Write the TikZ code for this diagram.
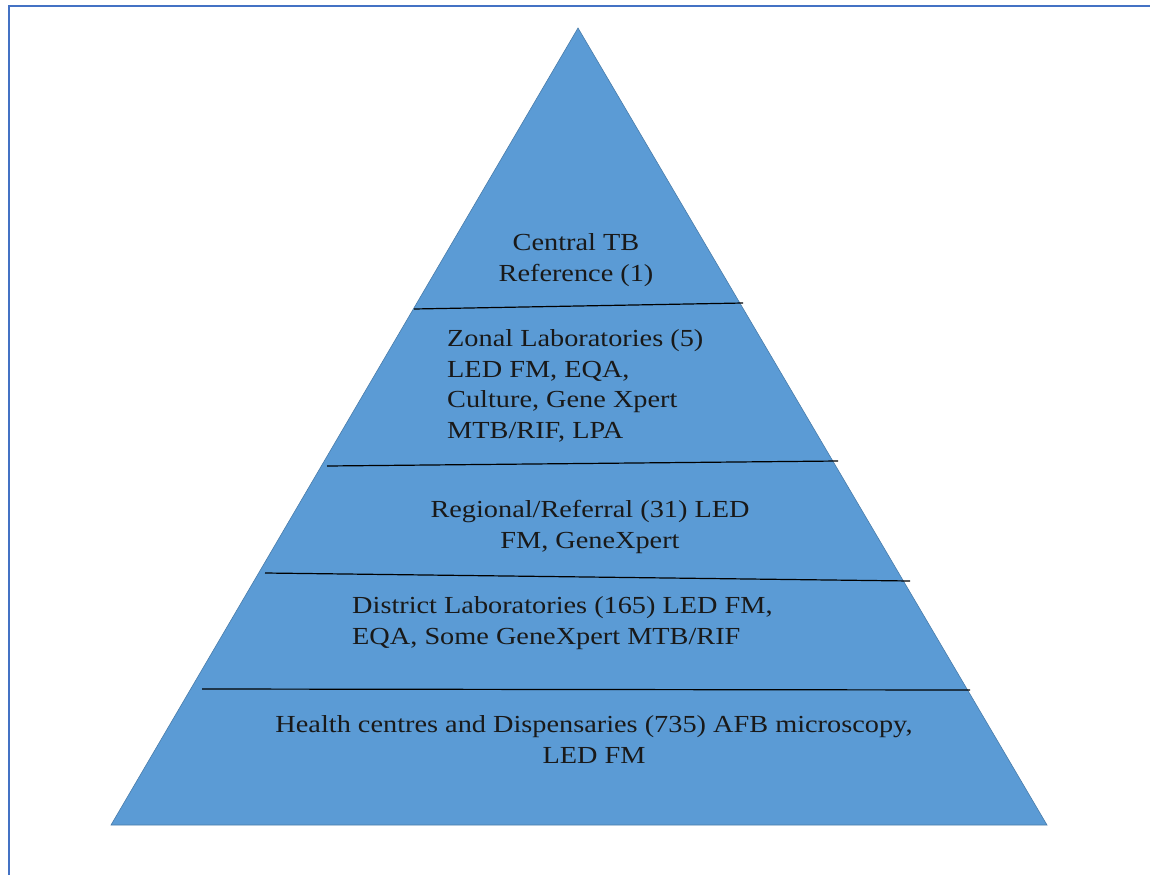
\documentclass[tikz,border=0pt]{standalone}
\usepackage{fontspec}
\setmainfont{Liberation Serif}[FakeStretch=1.155]
\usepackage{tikz}

\definecolor{tierblue}{HTML}{5B9BD5}
\definecolor{frameblue}{HTML}{4472C4}

\begin{document}
\begin{tikzpicture}[x=1pt,y=-1pt,
			tier text/.style={font=\fontsize{24.5}{30.5}\selectfont,inner sep=0pt,text=black!90},
			tier line/.style={draw=black,line width=1.2pt}
			]
			
			\useasboundingbox (0,0) rectangle (1150,875);
			
			% outer frame, only top and left edges show
			\draw[frameblue,line width=2pt] (9,875) -- (9,6) -- (1150,6);
			
			% the pyramid
			\coordinate (apex) at (578,28);
			\coordinate (base left) at (111,825);
			\coordinate (base right) at (1047,825);
			\fill[tierblue] (apex) -- (base right) -- (base left) -- cycle;
			\draw[tierblue!80!black,line width=0.6pt] (apex) -- (base right) -- (base left) -- cycle;
			
			% dividing lines between the levels
			\coordinate (l1a) at (414,309); \coordinate (l1b) at (743,303);
			\coordinate (l2a) at (327,466); \coordinate (l2b) at (838,461);
			\coordinate (l3a) at (265,573); \coordinate (l3b) at (910,581);
			\coordinate (l4a) at (202,689); \coordinate (l4b) at (970,690);
			\foreach \i in {1,...,4} {
				\draw[tier line] (l\i a) -- (l\i b);
			}
			
			% level labels, placed on the baseline of their last line
			\node[tier text,align=center,anchor=base] (central) at (576,281) {Central TB\\Reference (1)};
			\node[tier text,align=left,anchor=base west] (zonal) at (447,438) {Zonal Laboratories (5)\\LED FM, EQA,\\Culture, Gene Xpert\\MTB/RIF, LPA};
			\node[tier text,align=center,anchor=base] (regional) at (590,548) {Regional/Referral (31) LED\\FM, GeneXpert};
			\node[tier text,align=left,anchor=base west] (district) at (352,644) {District Laboratories (165) LED FM,\\EQA, Some GeneXpert MTB/RIF};
			\node[tier text,align=center,anchor=base] (health) at (594,763) {Health centres and Dispensaries (735) AFB microscopy,\\LED FM};
			
			\end{tikzpicture}
\end{document}
